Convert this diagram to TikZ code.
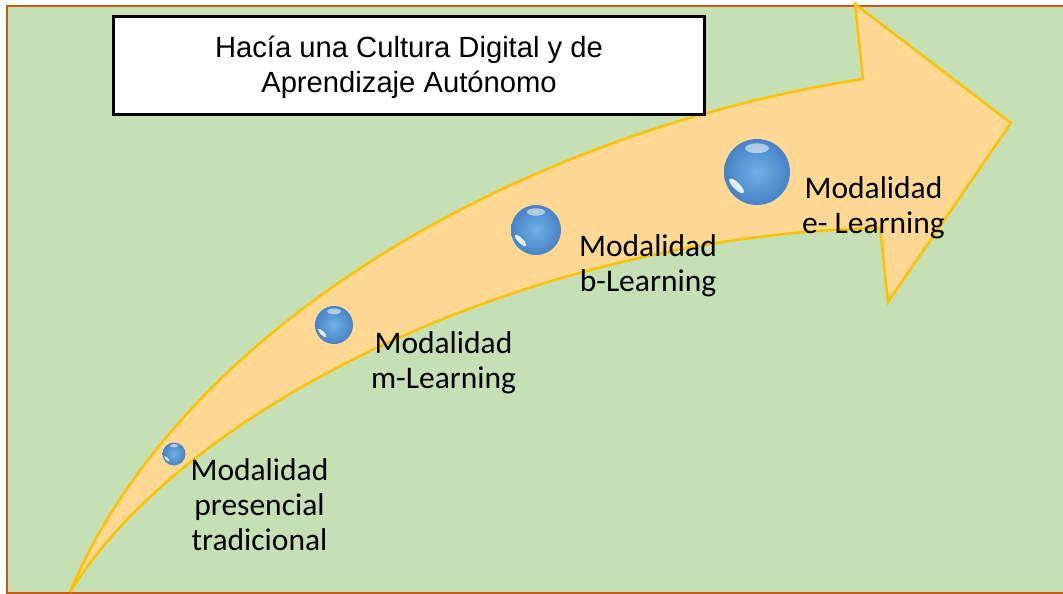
\documentclass[tikz,border=0pt]{standalone}
\usepackage{fontspec}
\setmainfont{Carlito}
\newfontfamily\titlefont{Liberation Sans}
\definecolor{bggreen}{HTML}{C5E0B4}
\definecolor{frameorange}{HTML}{C55A11}
\definecolor{arrowfill}{HTML}{FFD993}
\definecolor{arrowline}{HTML}{FFC000}
\definecolor{bubblein}{HTML}{72B0E6}
\definecolor{bubbleout}{HTML}{4683C6}
\newcommand\mybubble[4]{%
  \node[bubblestyle, minimum size=2*#4 pt] (#1) at (#2,#3) {};
  \fill[white, opacity=.55] (#2, #3-0.72*#4) ellipse [x radius=0.36*#4 pt, y radius=0.15*#4 pt];
  \fill[white, opacity=.85, rotate around={-45:(#2-0.62*#4, #3+0.42*#4)}] (#2-0.62*#4, #3+0.42*#4) ellipse [x radius=0.3*#4 pt, y radius=0.1*#4 pt];
}
\begin{document}
\begin{tikzpicture}[x=1pt,y=-1pt,
  arrowstyle/.style={fill=arrowfill, draw=arrowline, line width=2.5pt, line join=miter},
  bubblestyle/.style={circle, inner sep=0pt, shading=radial, inner color=bubblein, outer color=bubbleout},
  labelstyle/.style={align=center, inner sep=0pt, font=\fontsize{31.5}{35}\selectfont},
  titlebox/.style={draw=black, fill=white, line width=3pt}
]
\useasboundingbox (0,0) rectangle (1063,594);
\fill[white] (0,0) rectangle (1063,594);
\draw[fill=bggreen, draw=frameorange, line width=2pt] (7,6) rectangle (1080,593);

% arrow
\draw[arrowstyle] (70,592) .. controls (185,320) and (530,130) .. (863,79)
  -- (855,4) -- (1011,123) -- (888,302) -- (880,228)
  .. controls (540,235) and (190,400) .. (70,592) -- cycle;

% title
\draw[titlebox] (113,17) rectangle (704,114);
\node[align=center, inner sep=0pt, font=\titlefont\fontsize{29.2}{35}\selectfont] (title) at (409,67) {Hacía una Cultura Digital y de\\Aprendizaje Autónomo};

% bubbles
\mybubble{b1}{174}{454}{11.5}
\mybubble{b2}{334}{325}{19}
\mybubble{b3}{536}{230}{25}
\mybubble{b4}{757}{172}{33}

% labels
\node[labelstyle] (l1) at (259.5,504.7) {Modalidad\\presencial\\tradicional};
\node[labelstyle] (l2) at (443.5,362.4) {Modalidad\\m-Learning};
\node[labelstyle] (l3) at (648,266) {Modalidad\\b-Learning};
\node[labelstyle] (l4) at (873.5,208) {Modalidad\\e- Learning};
\end{tikzpicture}
\end{document}
